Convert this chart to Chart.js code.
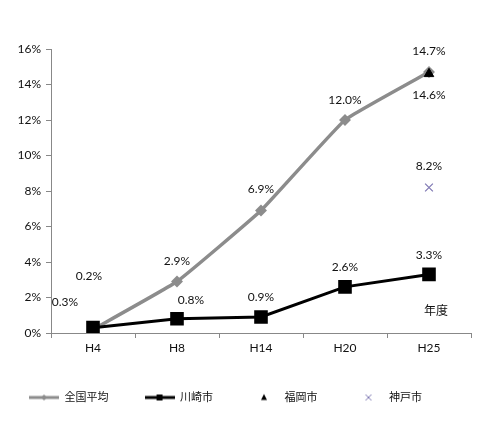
<!DOCTYPE html>
<html><head><meta charset="utf-8">
<script src="https://cdn.jsdelivr.net/npm/chart.js@4/dist/chart.umd.min.js"></script>
<style>html,body{margin:0;padding:0;background:#fff;}#wrap{width:484px;height:421px;position:relative;}</style>
</head><body><div id="wrap"><canvas id="c" width="484" height="421"></canvas></div>
<script>
const categories = ['H4','H8','H14','H20','H25'];
const seriesNames = ['全国平均','川崎市','福岡市','神戸市'];
const national = [0.2, 2.9, 6.9, 12.0, 14.7];
const kawasaki = [0.3, 0.8, 0.9, 2.6, 3.3];
const fukuoka = [null, null, null, null, 14.6];
const kobe = [null, null, null, null, 8.2];
const yMin = 0, yMax = 16, yStep = 2;

// label placement offsets (pixels) relative to each point
const labelOffsets = [
  [[-4,-53],[0,-20],[0,-21],[0,-20],[0,-21]],
  [[-28,-26],[14,-19],[0,-20],[0,-20],[0,-19]],
  [null,null,null,null,[0,21]],
  [null,null,null,null,[0,-21]]
];

const FONT = 'Lato, "Noto Sans CJK JP", sans-serif';
Chart.defaults.font.family = FONT;
Chart.defaults.font.size = 11;
Chart.defaults.color = '#111';

function legendIcon(kind){
  const c = document.createElement('canvas');
  c.width = 30; c.height = 12;
  const g = c.getContext('2d');
  const cy = 6;
  if (kind === 0){
    g.strokeStyle = '#8c8c8c'; g.lineWidth = 3;
    g.beginPath(); g.moveTo(0,cy); g.lineTo(30,cy); g.stroke();
    g.fillStyle = '#8c8c8c'; g.beginPath(); g.moveTo(15,cy-3); g.lineTo(18,cy); g.lineTo(15,cy+3); g.lineTo(12,cy); g.closePath(); g.fill();
  } else if (kind === 1){
    g.strokeStyle = '#000'; g.lineWidth = 3;
    g.beginPath(); g.moveTo(0,cy); g.lineTo(30,cy); g.stroke();
    g.fillStyle = '#000'; g.fillRect(12,cy-3,6,6);
  } else if (kind === 2){
    g.fillStyle = '#000'; g.beginPath(); g.moveTo(15,cy-3.5); g.lineTo(18,cy+2.5); g.lineTo(12,cy+2.5); g.closePath(); g.fill();
  } else {
    g.strokeStyle = '#7f78b3'; g.lineWidth = 1;
    g.beginPath(); g.moveTo(12,cy-3); g.lineTo(18,cy+3); g.moveTo(18,cy-3); g.lineTo(12,cy+3); g.stroke();
  }
  return c;
}
const icons = [0,1,2,3].map(legendIcon);

const labelPlugin = {
  id: 'valueLabels',
  afterDatasetsDraw(chart){
    const ctx = chart.ctx;
    ctx.save();
    ctx.font = '12px ' + FONT;
    ctx.fillStyle = '#111';
    ctx.textAlign = 'center';
    ctx.textBaseline = 'middle';
    chart.data.datasets.forEach((ds, di) => {
      const meta = chart.getDatasetMeta(di);
      ds.data.forEach((v, i) => {
        if (v === null || v === undefined) return;
        const off = labelOffsets[di][i];
        if (!off) return;
        const p = meta.data[i];
        ctx.fillText(v.toFixed(1) + '%', p.x + off[0], p.y + off[1]);
      });
    });
    const a = chart.chartArea;
    ctx.fillText('年度', a.right - 35, a.bottom - 22);
    ctx.restore();
  }
};

const shiftLegend = {
  id: 'shiftLegend',
  afterLayout(chart){
    const lg = chart.legend;
    if (lg){ lg.left -= 10; lg.right -= 10; }
  }
};

new Chart(document.getElementById('c'), {
  type: 'line',
  data: {
    labels: categories,
    datasets: [
      { label: seriesNames[0], data: national, borderColor: '#8c8c8c', backgroundColor: '#8c8c8c', borderWidth: 3.5,
        pointStyle: 'rectRot', pointRadius: 3.5, pointBackgroundColor: '#8c8c8c', pointBorderColor: '#8c8c8c', tension: 0.1, order: 4 },
      { label: seriesNames[1], data: kawasaki, borderColor: '#000', backgroundColor: '#000', borderWidth: 3,
        pointStyle: 'rect', pointRadius: 7.5, pointBackgroundColor: '#000', pointBorderColor: '#000', tension: 0, order: 3 },
      { label: seriesNames[2], data: fukuoka, showLine: false, borderColor: '#000', backgroundColor: '#000',
        pointStyle: 'triangle', pointRadius: 5.5, pointBackgroundColor: '#000', pointBorderColor: '#000', order: 1 },
      { label: seriesNames[3], data: kobe, showLine: false, borderColor: '#7f78b3', backgroundColor: '#7f78b3',
        pointStyle: 'crossRot', pointRadius: 5.5, pointBorderWidth: 1.2, order: 2 }
    ]
  },
  options: {
    responsive: false,
    animation: false,
    layout: { padding: { top: 49, right: 13, left: 0, bottom: 8 } },
    plugins: {
      tooltip: { enabled: false },
      legend: {
        position: 'bottom',
        labels: {
          usePointStyle: true,
          pointStyleWidth: 30,
          padding: 36,
          color: '#111',
          font: { size: 11 },
          generateLabels(chart){
            const items = Chart.defaults.plugins.legend.labels.generateLabels(chart);
            items.sort((a, b) => a.datasetIndex - b.datasetIndex);
            items.forEach(it => { it.pointStyle = icons[it.datasetIndex]; it.fontColor = '#111'; });
            return items;
          }
        }
      }
    },
    scales: {
      x: {
        offset: true,
        grid: { display: true, offset: true, drawOnChartArea: false, drawTicks: true, tickLength: 5, color: '#888' },
        border: { display: true, color: '#888', width: 1 },
        ticks: { padding: 3, color: '#111', font: { size: 12 } },
        afterFit(s){ s.height = 23; }
      },
      y: {
        min: yMin, max: yMax,
        grid: { display: true, drawOnChartArea: false, drawTicks: true, tickLength: 5, color: '#888' },
        border: { display: true, color: '#888', width: 1 },
        ticks: { stepSize: yStep, padding: 5, color: '#111', font: { size: 12 }, callback: v => v + '%' },
        afterFit(s){ s.width = 51; }
      }
    }
  },
  plugins: [labelPlugin, shiftLegend]
});
</script></body></html>
